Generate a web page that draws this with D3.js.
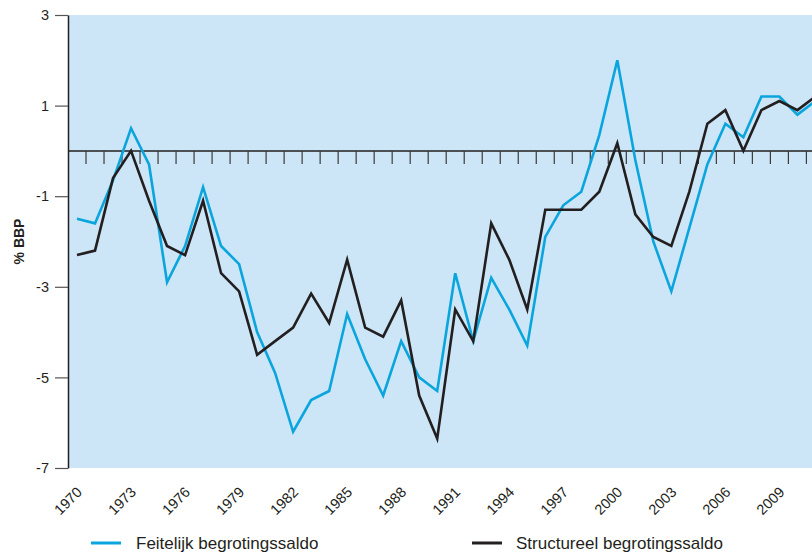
<!DOCTYPE html>
<html>
<head>
<meta charset="utf-8">
<script src="https://cdn.jsdelivr.net/npm/d3@7"></script>
<style>
  body { margin: 0; background: #fff; }
  text { font-family: "Liberation Sans", Arial, sans-serif; fill: #231f20; }
</style>
</head>
<body>
<div id="chart"></div>
<script>
// years 1970 - 2011 (2011 runs off the right edge)
var years = d3.range(1970, 2012);

var feitelijk = [-1.5, -1.6, -0.65, 0.5, -0.3, -2.9, -2.1, -0.8, -2.1, -2.5,
    -4.0, -4.9, -6.2, -5.5, -5.3, -3.6, -4.6, -5.4, -4.2, -5.0,
    -5.3, -2.7, -4.2, -2.8, -3.5, -4.3, -1.9, -1.2, -0.9, 0.35,
    2.0, -0.2, -2.0, -3.1, -1.7, -0.3, 0.6, 0.3, 1.2, 1.2,
    0.8, 1.1];

var structureel = [-2.3, -2.2, -0.6, 0.0, -1.1, -2.1, -2.3, -1.1, -2.7, -3.1,
    -4.5, -4.2, -3.9, -3.15, -3.8, -2.4, -3.9, -4.1, -3.3, -5.4,
    -6.35, -3.5, -4.2, -1.6, -2.4, -3.5, -1.3, -1.3, -1.3, -0.9,
    0.17, -1.4, -1.9, -2.1, -0.9, 0.6, 0.9, 0.0, 0.9, 1.1,
    0.9, 1.2];

var yTicks = [-7, -5, -3, -1, 1, 3];
var xLabels = [1970, 1973, 1976, 1979, 1982, 1985, 1988, 1991, 1994, 1997, 2000, 2003, 2006, 2009];

var seriesNames = ["Feitelijk begrotingssaldo", "Structureel begrotingssaldo"];
var colors = ["#0ba5de", "#231f20"];

var W = 812, H = 553;
var plotLeft = 68, plotTop = 15, plotBottom = 468;
var step = 18.01;

var svg = d3.select("#chart").append("svg")
    .attr("width", W)
    .attr("height", H);

var xScale = d3.scaleBand()
    .domain(years)
    .range([plotLeft, plotLeft + years.length * step])
    .paddingInner(0).paddingOuter(0);

var yScale = d3.scaleLinear()
    .domain([-7, 3])
    .range([plotBottom, plotTop]);

function cx(y) { return xScale(y) + xScale.bandwidth() / 2; }

svg.append("clipPath").attr("id", "plotclip")
    .append("rect")
    .attr("x", plotLeft).attr("y", plotTop)
    .attr("width", W - plotLeft).attr("height", plotBottom - plotTop);

// background
svg.append("rect")
    .attr("x", plotLeft)
    .attr("y", plotTop)
    .attr("width", W - plotLeft)
    .attr("height", plotBottom - plotTop)
    .attr("fill", "#cce6f7");

// zero line with year ticks hanging below
var zero = yScale(0);
svg.append("line")
    .attr("x1", plotLeft).attr("x2", W)
    .attr("y1", zero).attr("y2", zero)
    .attr("stroke", "#231f20")
    .attr("stroke-width", 1.5);

svg.append("g").selectAll("line")
    .data(years.slice(1))
    .enter().append("line")
    .attr("x1", function (d) { return xScale(d); })
    .attr("x2", function (d) { return xScale(d); })
    .attr("y1", zero)
    .attr("y2", zero + 13)
    .attr("stroke", "#3a3a3a")
    .attr("stroke-width", 1.2);

// y axis (plain hyphen as minus, like the original)
var yAxis = svg.append("g")
    .attr("transform", "translate(" + plotLeft + ",0)")
    .call(d3.axisLeft(yScale)
        .tickValues(yTicks)
        .tickFormat(function (d) { return String(d); })
        .tickSize(13).tickPadding(6).tickSizeOuter(0));

yAxis.select(".domain").attr("stroke", "#231f20").attr("stroke-width", 1.5);
yAxis.selectAll(".tick line").attr("stroke", "#555").attr("stroke-width", 1.2);
yAxis.selectAll(".tick text")
    .style("font-size", "14.5px")
    .style("font-family", "Liberation Sans, Arial, sans-serif")
    .attr("fill", "#231f20");

svg.append("text")
    .attr("transform", "translate(24," + ((plotTop + plotBottom) / 2) + ") rotate(-90)")
    .attr("text-anchor", "middle")
    .style("font-size", "14px")
    .style("font-weight", "bold")
    .text("% BBP");

// x labels
svg.append("g").selectAll("text")
    .data(xLabels)
    .enter().append("text")
    .attr("transform", function (d) { return "translate(" + (cx(d) + 6) + ",493) rotate(-45)"; })
    .attr("text-anchor", "end")
    .style("font-size", "14.5px")
    .text(function (d) { return d; });

// lines
var line = d3.line()
    .x(function (d, i) { return cx(years[i]); })
    .y(function (d) { return yScale(d); });

var plot = svg.append("g").attr("clip-path", "url(#plotclip)");

[feitelijk, structureel].forEach(function (s, i) {
    plot.append("path")
        .datum(s)
        .attr("fill", "none")
        .attr("stroke", colors[i])
        .attr("stroke-width", 2.6)
        .attr("stroke-linejoin", "miter")
        .attr("d", line);
});

// legend
var legendX = [91, 472];
var legend = svg.selectAll(".legend")
    .data(seriesNames)
    .enter().append("g")
    .attr("class", "legend")
    .attr("transform", function (d, i) { return "translate(" + legendX[i] + ",543)"; });

legend.append("line")
    .attr("x1", 0).attr("x2", 30)
    .attr("y1", 0).attr("y2", 0)
    .attr("stroke", function (d, i) { return colors[i]; })
    .attr("stroke-width", 3);

legend.append("text")
    .attr("x", function (d, i) { return i === 0 ? 45 : 44; })
    .attr("y", 6)
    .style("font-size", "17px")
    .text(function (d) { return d; });
</script>
</body>
</html>
